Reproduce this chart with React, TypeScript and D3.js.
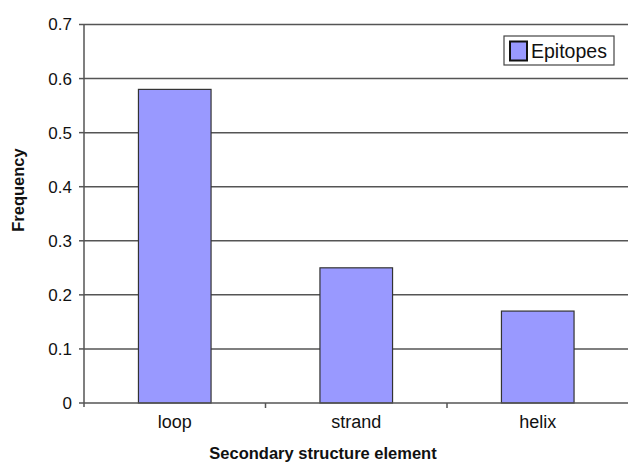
import React from "react";
import * as d3 from "d3";

const categories = ["loop", "strand", "helix"];
const values = [0.58, 0.25, 0.17];
const yTicks = [0, 0.1, 0.2, 0.3, 0.4, 0.5, 0.6, 0.7];
const seriesName = "Epitopes";

const W = 628;
const H = 463;
const left = 84;
const right = 628.5;
const top = 24.5;
const bottom = 403;

export default function App() {
  const x = d3.scaleBand<string>().domain(categories).range([left, right]).paddingInner(0.6).paddingOuter(0.3);
  const xb = d3.scaleBand<string>().domain(categories).range([left, right]);
  const y = d3.scaleLinear().domain([0, 0.7]).range([bottom, top]);
  const font = "Arial, 'Liberation Sans', sans-serif";
  return (
    <svg width={W} height={H} style={{ position: "absolute", left: 0, top: 0, background: "#fff" }}>
      {yTicks.map((t) => (
        <g key={t}>
          {t > 0 && <line x1={left} x2={W} y1={y(t)} y2={y(t)} stroke="#555" strokeWidth={1.5} />}
          <line x1={left - 5} x2={left} y1={y(t)} y2={y(t)} stroke="#555" strokeWidth={1.5} />
          <text x={72} y={y(t)} dy="0.35em" textAnchor="end" fontFamily={font} fontSize={17} fill="#111">
            {t === 0 ? "0" : t.toFixed(1)}
          </text>
        </g>
      ))}
      {categories.map((c, i) => (
        <rect
          key={c}
          x={x(c)}
          y={y(values[i])}
          width={x.bandwidth()}
          height={bottom - y(values[i])}
          fill="#9999ff"
          stroke="#333"
          strokeWidth={1.2}
        />
      ))}
      <line x1={left} x2={left} y1={top} y2={bottom + 4} stroke="#555" strokeWidth={1.5} />
      <line x1={left} x2={W} y1={bottom} y2={bottom} stroke="#555" strokeWidth={1.5} />
      {categories.slice(1).map((c) => (
        <line key={c} x1={xb(c)} x2={xb(c)} y1={bottom} y2={bottom + 5} stroke="#555" strokeWidth={1.5} />
      ))}
      {categories.map((c) => (
        <text key={c} x={(x(c) as number) + x.bandwidth() / 2} y={428} textAnchor="middle" fontFamily={font} fontSize={18} fill="#111">
          {c}
        </text>
      ))}
      <text x={323} y={459} textAnchor="middle" fontFamily={font} fontSize={16.5} fontWeight="bold" fill="#111">
        Secondary structure element
      </text>
      <text
        transform="translate(24,190) rotate(-90)"
        textAnchor="middle"
        fontFamily={font}
        fontSize={16.5}
        fontWeight="bold"
        fill="#111"
      >
        Frequency
      </text>
      <g>
        <rect x={504} y={36} width={110} height={29} fill="#fff" stroke="#444" strokeWidth={1.2} />
        <rect x={510} y={41.5} width={17} height={19} fill="#9999ff" stroke="#111" strokeWidth={2} />
        <text x={531} y={51} dy="0.35em" fontFamily={font} fontSize={19.5} fill="#111">
          {seriesName}
        </text>
      </g>
    </svg>
  );
}
